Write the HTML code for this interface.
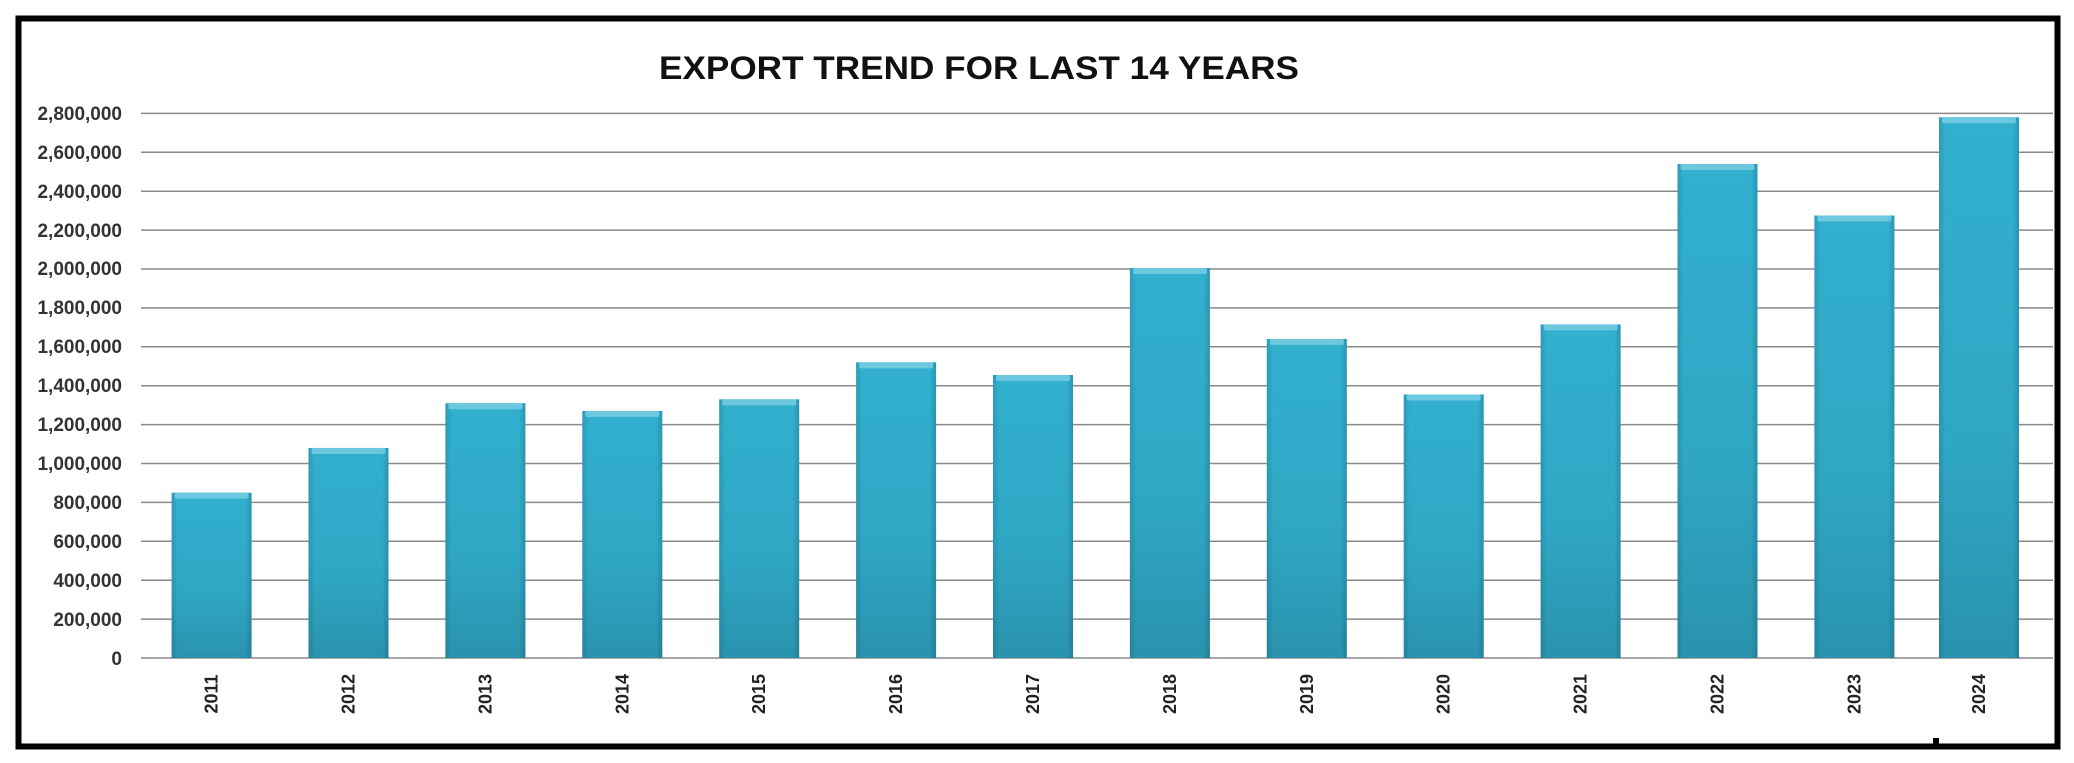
<!DOCTYPE html>
<html><head><meta charset="utf-8"><style>html,body{margin:0;padding:0;background:#fff}svg{display:block}</style></head>
<body>
<svg width="2074" height="763" viewBox="0 0 2074 763" xmlns="http://www.w3.org/2000/svg">
<defs>
<linearGradient id="g" x1="0" y1="0" x2="0" y2="1"><stop offset="0" stop-color="#32b0cf"/><stop offset="0.6" stop-color="#2fa7c4"/><stop offset="1" stop-color="#2a93ae"/></linearGradient>
<linearGradient id="h" x1="0" y1="0" x2="1" y2="0"><stop offset="0" stop-color="#000" stop-opacity="0.12"/><stop offset="0.08" stop-color="#000" stop-opacity="0"/><stop offset="0.92" stop-color="#000" stop-opacity="0"/><stop offset="1" stop-color="#000" stop-opacity="0.15"/></linearGradient>
</defs>
<rect x="0" y="0" width="2074" height="763" fill="#fff"/>
<rect x="18.5" y="18.5" width="2039" height="728" fill="none" stroke="#000" stroke-width="6"/>
<text x="979" y="79" text-anchor="middle" font-family="Liberation Sans, sans-serif" font-weight="bold" font-size="32" textLength="640" lengthAdjust="spacingAndGlyphs" fill="#111">EXPORT TREND FOR LAST 14 YEARS</text>
<g stroke="#8a8a8a" stroke-width="1.5">
<line x1="141" x2="2053" y1="658" y2="658"/><line x1="141" x2="2053" y1="619.1" y2="619.1"/><line x1="141" x2="2053" y1="580.2" y2="580.2"/><line x1="141" x2="2053" y1="541.3" y2="541.3"/><line x1="141" x2="2053" y1="502.4" y2="502.4"/><line x1="141" x2="2053" y1="463.5" y2="463.5"/><line x1="141" x2="2053" y1="424.6" y2="424.6"/><line x1="141" x2="2053" y1="385.7" y2="385.7"/><line x1="141" x2="2053" y1="346.8" y2="346.8"/><line x1="141" x2="2053" y1="307.9" y2="307.9"/><line x1="141" x2="2053" y1="269" y2="269"/><line x1="141" x2="2053" y1="230.1" y2="230.1"/><line x1="141" x2="2053" y1="191.2" y2="191.2"/><line x1="141" x2="2053" y1="152.3" y2="152.3"/><line x1="141" x2="2053" y1="113.4" y2="113.4"/>
</g>
<g font-family="Liberation Sans, sans-serif" font-weight="bold" font-size="19" fill="#333" text-anchor="end">
<text x="122" y="665">0</text><text x="122" y="626">200,000</text><text x="122" y="587">400,000</text><text x="122" y="548">600,000</text><text x="122" y="509">800,000</text><text x="122" y="470">1,000,000</text><text x="122" y="431">1,200,000</text><text x="122" y="392">1,400,000</text><text x="122" y="353">1,600,000</text><text x="122" y="314">1,800,000</text><text x="122" y="275">2,000,000</text><text x="122" y="237">2,200,000</text><text x="122" y="198">2,400,000</text><text x="122" y="159">2,600,000</text><text x="122" y="120">2,800,000</text>
</g>
<g id="bars"></g>
<g id="labels" font-family="Liberation Sans, sans-serif" font-weight="bold" font-size="18" fill="#222"></g>
<script>
var vals=[850,1080,1310,1270,1330,1520,1455,2005,1640,1355,1715,2540,2275,2780];
var ns="http://www.w3.org/2000/svg",b=document.getElementById('bars'),l=document.getElementById('labels');
for(var i=0;i<14;i++){var cx=i<13?211.6+i*136.9:1979;var w=80;var y=658-vals[i]*0.1945;var x=cx-w/2;
function r(a){var e=document.createElementNS(ns,'rect');for(var k in a)e.setAttribute(k,a[k]);b.appendChild(e);}
r({x:x,y:y,width:w,height:658-y,fill:'url(#g)'});r({x:x,y:y,width:w,height:658-y,fill:'url(#h)'});
r({x:x+3,y:y,width:w-6,height:6,fill:'#6cc8de',rx:2});
var t=document.createElementNS(ns,'text');t.setAttribute('transform','translate('+(cx+6)+',694) rotate(-90)');t.setAttribute('text-anchor','middle');t.textContent=2011+i;l.appendChild(t);}
</script>
<rect x="1933" y="738" width="6" height="10" fill="#000"/>
</svg>
</body></html>
